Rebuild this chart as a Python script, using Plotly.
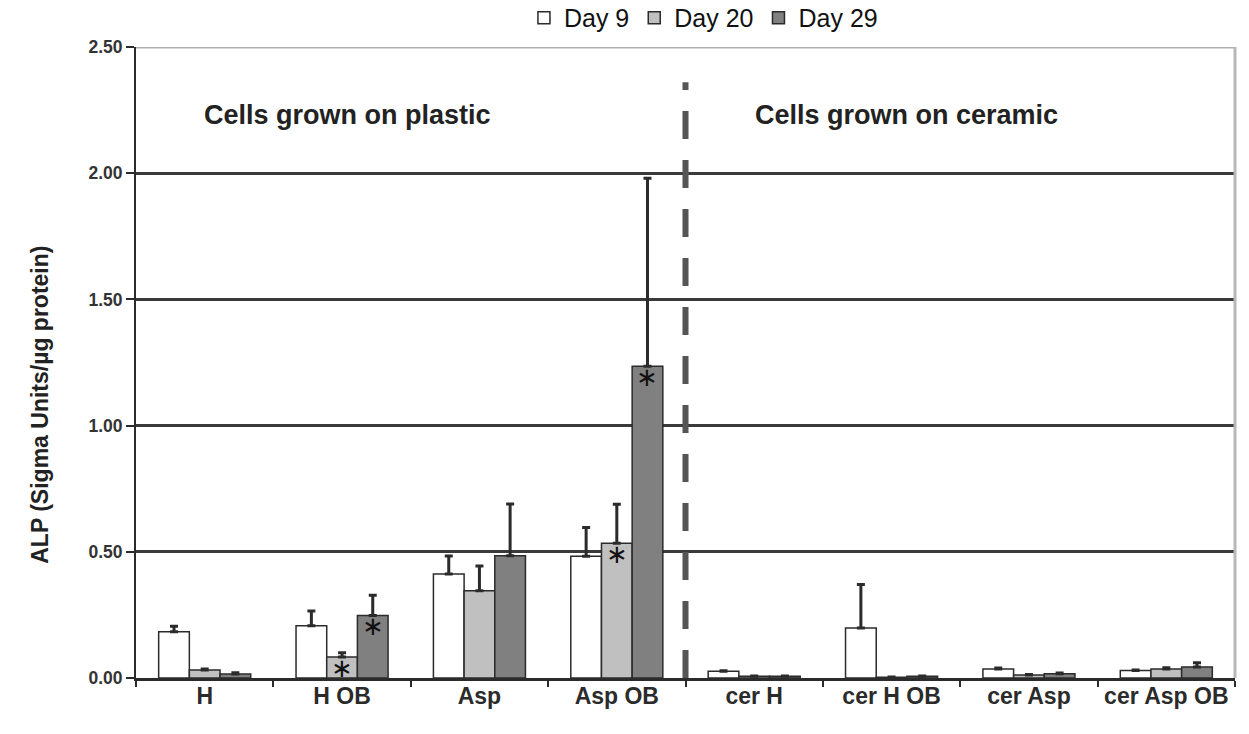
import plotly.graph_objects as go

# ALP activity per culture condition, three time points
categories = ["H", "H OB", "Asp", "Asp OB", "cer H", "cer H OB", "cer Asp", "cer Asp OB"]
series_names = ["Day 9", "Day 20", "Day 29"]

day9 = [0.183, 0.207, 0.412, 0.482, 0.027, 0.198, 0.036, 0.030]
day20 = [0.032, 0.083, 0.346, 0.534, 0.007, 0.003, 0.012, 0.036]
day29 = [0.016, 0.248, 0.484, 1.235, 0.007, 0.007, 0.017, 0.044]

day9_sd = [0.022, 0.058, 0.071, 0.114, 0.002, 0.172, 0.004, 0.002]
day20_sd = [0.004, 0.017, 0.098, 0.154, 0.001, 0.001, 0.002, 0.005]
day29_sd = [0.005, 0.080, 0.205, 0.745, 0.001, 0.001, 0.003, 0.016]

# significance flags (asterisks drawn inside the bars)
day9_sig = [False] * 8
day20_sig = [False, True, False, True, False, False, False, False]
day29_sig = [False, True, False, True, False, False, False, False]

y_ticks = [0.0, 0.5, 1.0, 1.5, 2.0, 2.5]
y_tick_labels = ["0.00", "0.50", "1.00", "1.50", "2.00", "2.50"]

fills = ["#ffffff", "#c0c0c0", "#808080"]
FONT = "Liberation Sans, Arial, sans-serif"
DARK = "#2b2b2b"

W, H = 1249, 734
M = dict(l=136, r=14, t=47, b=56)
BARGAP = 0.33

fig = go.Figure()
for name, vals, sds, fill in zip(series_names, [day9, day20, day29],
                                 [day9_sd, day20_sd, day29_sd], fills):
    fig.add_trace(go.Bar(
        name=name,
        x=categories,
        y=vals,
        marker=dict(color=fill, line=dict(color=DARK, width=1.5)),
        error_y=dict(type="data", symmetric=False, array=sds,
                     arrayminus=[0] * len(sds), color=DARK,
                     thickness=3, width=4),
    ))

fig.update_layout(
    width=W, height=H,
    margin=dict(**M, autoexpand=False),
    paper_bgcolor="white", plot_bgcolor="white",
    barmode="group", bargap=BARGAP, bargroupgap=0,
    showlegend=True,
    legend=dict(orientation="h", x=0.353, xanchor="left", y=1.046, yanchor="middle",
                font=dict(family=FONT, size=25, color="#111111"),
                itemwidth=30, traceorder="normal", tracegroupgap=0),
    font=dict(family=FONT, color=DARK),
)

fig.update_xaxes(
    type="category", range=[-0.5, len(categories) - 0.5],
    showline=True, linecolor=DARK, linewidth=3,
    ticks="outside", tickson="boundaries", ticklen=6, tickwidth=2, tickcolor=DARK,
    tickangle=0, ticklabelstandoff=-5,
    tickfont=dict(family=FONT, size=23, color=DARK, weight="bold"),
    showgrid=False, zeroline=False,
)
fig.update_yaxes(
    range=[0, 2.5], tickvals=y_ticks, ticktext=y_tick_labels,
    showline=True, linecolor=DARK, linewidth=2,
    ticks="outside", ticklen=8, tickwidth=2, tickcolor=DARK,
    tickfont=dict(family=FONT, size=17.5, color="#333333", weight="bold"),
    showgrid=True, gridcolor="#3a3a3a", gridwidth=2.5,
    zeroline=False,
)

# asterisks sit just under the top of the flagged bars
cat_px = (W - M["l"] - M["r"]) / len(categories)
bar_px = cat_px * (1 - BARGAP) / len(series_names)
for k, (vals, sig) in enumerate(zip([day9, day20, day29], [day9_sig, day20_sig, day29_sig])):
    for cat, v, s in zip(categories, vals, sig):
        if s:
            fig.add_annotation(x=cat, y=v, xref="x", yref="y", text="\u2217",
                               xshift=(k - 1) * bar_px, yanchor="top", yshift=6,
                               showarrow=False,
                               font=dict(family="DejaVu Sans", size=26, color="#111111"))

# light top edge and right border of the plot area
fig.add_shape(type="line", xref="paper", yref="y", x0=0, x1=1, y0=2.5, y1=2.5,
              line=dict(color="#b0b0b0", width=3), layer="above")
fig.add_shape(type="line", xref="paper", yref="paper", x0=1, x1=1, y0=0, y1=1,
              line=dict(color="#b8b8b8", width=3), layer="above")

# dashed separator between plastic and ceramic substrates
fig.add_shape(type="line", xref="x", yref="y", x0=3.5, x1=3.5, y0=0, y1=2.36,
              line=dict(color="#555555", width=6, dash="28px,21px"), layer="above")

fig.add_annotation(x=1.04, y=2.23, xref="x", yref="y", text="<b>Cells grown on plastic</b>",
                   showarrow=False, font=dict(family=FONT, size=27, color="#222222"))
fig.add_annotation(x=5.11, y=2.23, xref="x", yref="y", text="<b>Cells grown on ceramic</b>",
                   showarrow=False, font=dict(family=FONT, size=27, color="#222222"))

# y-axis title
fig.add_annotation(x=-0.101, y=0.433, xref="paper", yref="paper",
                   text="<b>ALP (Sigma Units/µg protein)</b>", textangle=-90,
                   showarrow=False, font=dict(family=FONT, size=23, color="#222222"))

fig.write_html("out.html")
